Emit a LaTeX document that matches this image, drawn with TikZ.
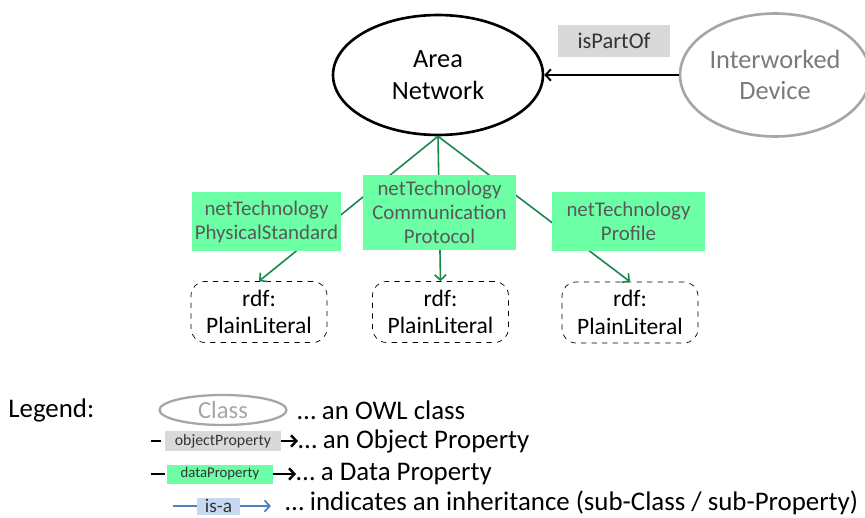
\documentclass[tikz,border=0pt]{standalone}
\usepackage{fontspec}
\setmainfont{Carlito}
\usetikzlibrary{shapes.geometric,arrows,arrows.meta,positioning}
\definecolor{dpgreen}{HTML}{6CFFA6}
\definecolor{opgray}{HTML}{D9D9D9}
\definecolor{lnkgreen}{HTML}{15884A}
\definecolor{isablue}{HTML}{4F81BD}
\definecolor{isafill}{HTML}{C6D9F1}
\definecolor{clsgray}{HTML}{A6A6A6}
\definecolor{txtgray}{HTML}{595959}
\tikzset{
    owlclass/.style = {draw, ellipse, line width=1.5pt, inner sep=0pt,
        minimum width=4.2cm, minimum height=2.4cm, align=center,
        font=\fontsize{15}{18}\selectfont},
    extclass/.style = {owlclass, draw=clsgray, text=txtgray!80},
    objprop/.style = {fill=opgray, text=black!80, inner sep=0pt,
        minimum width=2.26cm, minimum height=0.64cm,
        font=\fontsize{12.8}{15}\selectfont},
    dataprop/.style = {fill=dpgreen, text=txtgray, inner sep=0pt, align=center,
        minimum height=1.18cm, font=\fontsize{11.9}{13.6}\selectfont},
    literal/.style = {draw, dashed, rounded corners=8pt, inner sep=0pt,
        minimum width=2.72cm, minimum height=1.22cm, align=center,
        font=\fontsize{13.4}{15.8}\selectfont},
    dpline/.style = {draw=lnkgreen, line width=0.9pt},
    legtext/.style = {anchor=west, inner sep=0pt, font=\fontsize{15.3}{18}\selectfont}
}

\begin{document}
\begin{tikzpicture}[x=0.02cm, y=-0.02cm, >={Straight Barb[length=3pt,width=6.5pt]}]
    \useasboundingbox (0,0) rectangle (865,517);
    % classes
    \node [owlclass] (area) at (438,75) {Area\\Network};
    \node [extclass, minimum width=3.8cm, minimum height=2.46cm] (device) at (775,75) {Interworked\\Device};
    \node [objprop] (ispartof) at (614,41) {isPartOf};
    \draw [->, line width=1.1pt] (device.west) -- (area.east);
    % literals
    \node [literal] (litphy) at (259,312) {rdf:\\PlainLiteral};
    \node [literal] (litcom) at (440.5,312) {rdf:\\PlainLiteral};
    \node [literal] (litpro) at (630,312.5) {rdf:\\PlainLiteral};
    % data properties
    \draw [dpline, ->] (area.south) -- (litphy.north);
    \draw [dpline, ->] (area.south) -- (litcom.north);
    \draw [dpline, ->] (area.south) -- (litpro.north);
    \node [dataprop, minimum width=2.98cm] (dpphy) at (266.5,221.5) {netTechnology\\PhysicalStandard};
    \node [dataprop, minimum width=3.06cm, minimum height=1.5cm] (dpcom) at (439.5,212.5) {netTechnology\\Communication\\Protocol};
    \node [dataprop, minimum width=3.06cm] (dppro) at (628.5,221.5) {netTechnology\\Profile};
    % legend
    \node [legtext] (legend) at (8,410) {Legend:};
    \node [extclass, minimum width=2.54cm, minimum height=0.6cm, line width=1.3pt,
        font=\fontsize{14}{16}\selectfont, text=clsgray] (clsdemo) at (223,410) {Class};
    \node [legtext] (clstxt) at (297,410) {… an OWL class};
    \coordinate (opstart) at (151,441);
    \node [objprop, minimum width=2.32cm, minimum height=0.4cm,
        font=\fontsize{9}{10}\selectfont] (opdemo) at (223,441) {objectProperty};
    \node [legtext] (optxt) at (298,441) {… an Object Property};
    \draw [line width=1.4pt, shorten >=2pt] (opstart) -- (opdemo.west);
    \draw [->, line width=1.4pt] (opdemo.east) -- (optxt.west);
    \coordinate (dpstart) at (151,474);
    \node [dataprop, minimum width=2.12cm, minimum height=0.38cm,
        font=\fontsize{8.4}{10}\selectfont, text=black!80] (dpdemo) at (220,474) {dataProperty};
    \node [legtext] (dptxt) at (296,474) {… a Data Property};
    \draw [line width=1.4pt, shorten >=1pt] (dpstart) -- (dpdemo.west);
    \draw [->, line width=1.4pt] (dpdemo.east) -- (dptxt.west);
    \coordinate (isastart) at (173,506);
    \node [fill=isafill, minimum width=0.86cm, minimum height=0.34cm, inner sep=0pt,
        font=\fontsize{11}{12}\selectfont, text=black!80] (isademo) at (218.5,506) {is-a};
    \node [legtext] (isatxt) at (285,503) {… indicates an inheritance (sub-Class / sub-Property)};
    \draw [draw=isablue, line width=1pt] (isastart) -- (isademo.west);
    \draw [draw=isablue, ->, line width=1pt, shorten >=8pt] (isademo.east) -- (isademo.east -| isatxt.west);
\end{tikzpicture}
\end{document}
